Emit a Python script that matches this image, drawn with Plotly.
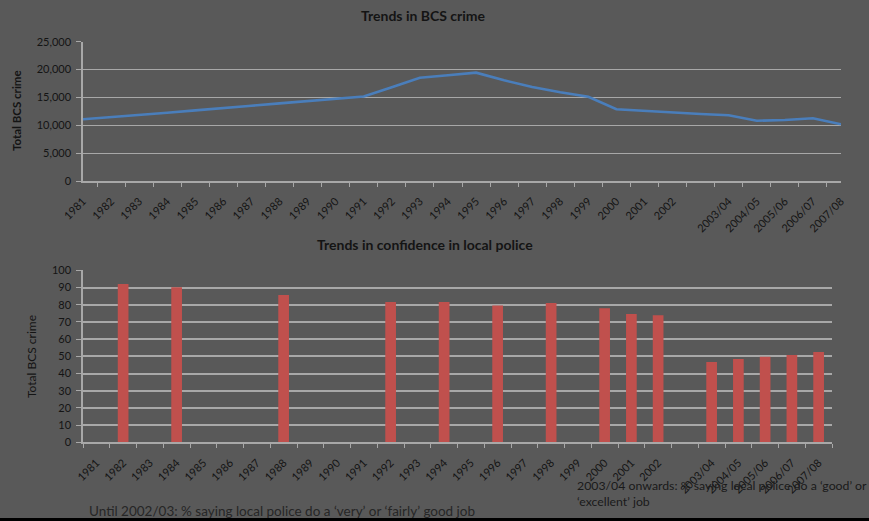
import plotly.graph_objects as go

W, H = 869, 521

categories = [str(y) for y in range(1981, 2003)] + [" ", "2003/04", "2004/05", "2005/06", "2006/07", "2007/08"]

bcs_crime = [11070, 11430, 11850, 12260, 12680, 13040, 13510, 13940, 14300, 14770,
             15150, 16840, 18540, 18990, 19440, 18070, 16870, 15920, 15130, 12870,
             12560, 12260, 12020, 11790, 10820, 10950, 11250, 10180]

confidence = [None, 92.0, None, 90.1, None, None, None, 85.6, None, None,
              None, 81.6, None, 81.6, None, 79.6, None, 81.0, None, 77.9,
              74.6, 73.8, None, 46.7, 48.4, 49.8, 50.8, 52.5]

BG = "#595959"
GRID = "#a8a8a8"
TXT = "#141414"
FONT = "Lato"

def px_x(x):
    return x / W

def px_y(y):
    return 1 - y / H

fig = go.Figure()

fig.add_trace(go.Scatter(x=categories, y=bcs_crime, mode="lines",
                         line=dict(color="#4a7ebb", width=2.6),
                         connectgaps=True, xaxis="x", yaxis="y", showlegend=False))
fig.add_trace(go.Bar(x=categories, y=confidence, marker=dict(color="#c0504d", line=dict(width=0)),
                     xaxis="x2", yaxis="y2", showlegend=False))

axis_common = dict(showline=True, linecolor=GRID, linewidth=1.5, ticks="outside",
                   tickcolor=GRID, automargin=False, zeroline=False,
                   tickfont=dict(family=FONT, size=11, color=TXT))

xcommon = dict(type="category", categoryorder="array", categoryarray=categories,
               tickangle=-45, tickson="boundaries", ticklen=4, showgrid=False,
               ticklabelstandoff=8)

fig.update_layout(
    template="none",
    width=W, height=H,
    margin=dict(l=0, r=0, t=0, b=0),
    paper_bgcolor=BG, plot_bgcolor=BG,
    bargap=0.6,
    showlegend=False,
    xaxis=dict(domain=[px_x(83), px_x(841)], anchor="y", **xcommon, **axis_common),
    yaxis=dict(domain=[px_y(181), px_y(41.7)], range=[0, 25000], dtick=5000, tickformat=",d",
               ticklen=5, showgrid=True, gridcolor=GRID, gridwidth=1.3, anchor="x",
               ticklabelstandoff=3, **axis_common),
    xaxis2=dict(domain=[px_x(83), px_x(832)], anchor="y2", **xcommon, **axis_common),
    yaxis2=dict(domain=[px_y(442.3), px_y(270.3)], range=[0, 100], dtick=10,
                ticklen=5, showgrid=True, gridcolor=GRID, gridwidth=1.5, anchor="x2",
                ticklabelstandoff=3, **axis_common),
)

ann = []
ann.append(dict(text="<b>Trends in BCS crime</b>", x=px_x(423), y=px_y(15), xref="paper", yref="paper",
                showarrow=False, font=dict(family=FONT, size=14, color=TXT), xanchor="center", yanchor="middle"))
ann.append(dict(text="<b>Trends in confidence in local police</b>", x=px_x(425), y=px_y(245), xref="paper",
                yref="paper", showarrow=False, font=dict(family=FONT, size=14, color=TXT),
                xanchor="center", yanchor="middle"))
ann.append(dict(text="<b>Total BCS crime</b>", x=px_x(16), y=px_y(111), xref="paper", yref="paper",
                showarrow=False, textangle=-90, font=dict(family=FONT, size=11.5, color=TXT),
                xanchor="center", yanchor="middle"))
ann.append(dict(text="Total BCS crime", x=px_x(31), y=px_y(357), xref="paper", yref="paper",
                showarrow=False, textangle=-90, font=dict(family=FONT, size=12, color=TXT),
                xanchor="center", yanchor="middle"))
ann.append(dict(text="Until 2002/03: % saying local police do a ‘very’ or ‘fairly’ good job",
                x=px_x(87), y=px_y(511), xref="paper", yref="paper", showarrow=False,
                font=dict(family=FONT, size=13.5, color="#262626"), xanchor="left", yanchor="middle"))
ann.append(dict(text="2003/04 onwards: % saying local police do a ‘good’ or<br>‘excellent’ job",
                x=px_x(575), y=px_y(493), xref="paper", yref="paper", showarrow=False, align="left",
                font=dict(family=FONT, size=12.3, color="#1a1a1a"), xanchor="left", yanchor="middle"))
fig.update_layout(annotations=ann)

fig.add_shape(type="rect", xref="paper", yref="paper", x0=0, x1=1, y0=0, y1=3 / H,
              fillcolor="#000000", line=dict(width=0), layer="above")

fig.write_html("out.html")
